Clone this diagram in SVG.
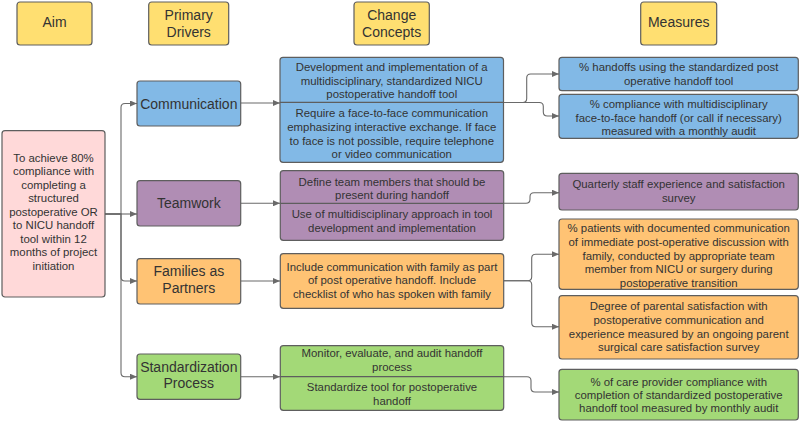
<svg xmlns="http://www.w3.org/2000/svg" width="800" height="422" viewBox="0 0 800 422">
<style>
.box{stroke:#5e5e5e;stroke-width:1.2}
.hdr{fill:#ffdf71}
.aim{fill:#ffd9d9}
.blue{fill:#82b9e6}
.purple{fill:#b08db4}
.orange{fill:#ffc374}
.green{fill:#a3d977}
text{font-family:"Liberation Sans",Arial,sans-serif;fill:#333;text-anchor:middle}
.h{font-size:14px}
.d{font-size:14px}
.s{font-size:11.4px}
.div{stroke:#5e5e5e;stroke-width:1.2;fill:none}
.c{fill:none;stroke:#6a6a6a;stroke-width:1.1}
</style>
<defs>
<marker id="ah" markerUnits="userSpaceOnUse" markerWidth="8" markerHeight="6" refX="7" refY="3" orient="auto">
<path d="M0,0 L7,3 L0,6 z" fill="#6a6a6a"/>
</marker>
</defs>

<g id="hdr-aim"><rect class="box hdr" x="17" y="2" width="75" height="43" rx="3"/><text class="h" x="54.5" y="27">Aim</text></g>
<g id="hdr-drivers"><rect class="box hdr" x="148.7" y="2" width="80" height="43" rx="3"/><text class="h" x="188.7" y="19.7">Primary</text><text class="h" x="188.7" y="36.7">Drivers</text></g>
<g id="hdr-concepts"><rect class="box hdr" x="354" y="2" width="75.3" height="43" rx="3"/><text class="h" x="391.7" y="19.7">Change</text><text class="h" x="391.7" y="36.7">Concepts</text></g>
<g id="hdr-measures"><rect class="box hdr" x="640.7" y="2" width="76" height="43" rx="3"/><text class="h" x="678.7" y="27">Measures</text></g>

<g id="connectors">
<path class="c" marker-end="url(#ah)" d="M105,214 H121 V107.5 Q121,103.5 125,103.5 H137"/>
<path class="c" marker-end="url(#ah)" d="M105,214 H137"/>
<path class="c" marker-end="url(#ah)" d="M105,214 H121 V277 Q121,281 125,281 H137"/>
<path class="c" marker-end="url(#ah)" d="M105,214 H121 V372.7 Q121,376.7 125,376.7 H137"/>
<path class="c" marker-end="url(#ah)" d="M240.7,103 H280"/>
<path class="c" marker-end="url(#ah)" d="M240.7,203.3 H280"/>
<path class="c" marker-end="url(#ah)" d="M240.7,281 H280"/>
<path class="c" marker-end="url(#ah)" d="M240.7,376.7 H280"/>
<path class="c" marker-end="url(#ah)" d="M503.5,102.5 H522.7 Q526.7,102.5 526.7,98.5 V78 Q526.7,74 530.7,74 H559"/>
<path class="c" marker-end="url(#ah)" d="M503.5,102.5 H539.3 Q543.3,102.5 543.3,106.5 V112 Q543.3,116 547.3,116 H559"/>
<path class="c" marker-end="url(#ah)" d="M503.7,203.3 H526 Q530,203.3 530,199.3 V196.7 Q530,192.7 534,192.7 H559"/>
<path class="c" marker-end="url(#ah)" d="M503.7,280.7 H527.7 Q531.7,280.7 531.7,276.7 V258.3 Q531.7,254.3 535.7,254.3 H559"/>
<path class="c" marker-end="url(#ah)" d="M503.7,280.7 H527.7 Q531.7,280.7 531.7,284.7 V322.7 Q531.7,326.7 535.7,326.7 H559"/>
<path class="c" marker-end="url(#ah)" d="M503.7,376.7 H527 Q531,376.7 531,380.7 V388 Q531,392 535,392 H559"/>
</g>

<g id="aim">
<rect class="box aim" x="2" y="130.7" width="103" height="166.3" rx="3"/>
<text class="s" x="53.5" y="161.7">To achieve 80%</text>
<text class="s" x="53.5" y="175.2">compliance with</text>
<text class="s" x="53.5" y="188.7">completing a</text>
<text class="s" x="53.5" y="202.2">structured</text>
<text class="s" x="53.5" y="215.7">postoperative OR</text>
<text class="s" x="53.5" y="229.2">to NICU handoff</text>
<text class="s" x="53.5" y="242.7">tool within 12</text>
<text class="s" x="53.5" y="256.2">months of project</text>
<text class="s" x="53.5" y="269.7">initiation</text>
</g>

<g id="driver-communication"><rect class="box blue" x="137" y="81" width="103.7" height="45" rx="3"/><text class="d" x="188.8" y="108.5">Communication</text></g>
<g id="driver-teamwork"><rect class="box purple" x="137" y="180.7" width="103.7" height="45.3" rx="3"/><text class="d" x="188.8" y="208.3">Teamwork</text></g>
<g id="driver-families"><rect class="box orange" x="137" y="258.7" width="103.7" height="45.3" rx="3"/><text class="d" x="188.8" y="276">Families as</text><text class="d" x="188.8" y="292.7">Partners</text></g>
<g id="driver-standardization"><rect class="box green" x="137" y="354" width="103.7" height="45.3" rx="3"/><text class="d" x="188.8" y="371.7">Standardization</text><text class="d" x="188.8" y="388.3">Process</text></g>

<g id="concepts-communication">
<rect class="box blue" x="280" y="57.3" width="223.5" height="105" rx="3"/>
<line class="div" x1="280" y1="102.3" x2="503.5" y2="102.3"/>
<text class="s" x="391.75" y="71.3">Development and implementation of a</text>
<text class="s" x="391.75" y="85">multidisciplinary, standardized NICU</text>
<text class="s" x="391.75" y="98.3">postoperative handoff tool</text>
<text class="s" x="391.75" y="117.3">Require a face-to-face communication</text>
<text class="s" x="391.75" y="131">emphasizing interactive exchange. If face</text>
<text class="s" x="391.75" y="144.7">to face is not possible, require telephone</text>
<text class="s" x="391.75" y="158">or video communication</text>
</g>
<g id="concepts-teamwork">
<rect class="box purple" x="280.3" y="170.7" width="223.4" height="69.6" rx="3"/>
<line class="div" x1="280.3" y1="203.3" x2="503.7" y2="203.3"/>
<text class="s" x="392" y="185.7">Define team members that should be</text>
<text class="s" x="392" y="199">present during handoff</text>
<text class="s" x="392" y="218">Use of multidisciplinary approach in tool</text>
<text class="s" x="392" y="232">development and implementation</text>
</g>
<g id="concepts-families">
<rect class="box orange" x="280.3" y="253.7" width="223.4" height="54.6" rx="3"/>
<text class="s" x="392" y="270.7">Include communication with family as part</text>
<text class="s" x="392" y="284">of post operative handoff. Include</text>
<text class="s" x="392" y="298">checklist of who has spoken with family</text>
</g>
<g id="concepts-standardization">
<rect class="box green" x="280.3" y="345.7" width="223.4" height="64.6" rx="3"/>
<line class="div" x1="280.3" y1="376.7" x2="503.7" y2="376.7"/>
<text class="s" x="392" y="357.3">Monitor, evaluate, and audit handoff</text>
<text class="s" x="392" y="371.3">process</text>
<text class="s" x="392" y="390.7">Standardize tool for postoperative</text>
<text class="s" x="392" y="404.7">handoff</text>
</g>

<g id="measure-comm-1"><rect class="box blue" x="559" y="57.3" width="239.3" height="33.4" rx="3"/><text class="s" x="678.7" y="71.3">% handoffs using the standardized post</text><text class="s" x="678.7" y="85.3">operative handoff tool</text></g>
<g id="measure-comm-2"><rect class="box blue" x="559" y="94.3" width="239.3" height="44" rx="3"/><text class="s" x="678.7" y="108">% compliance with multidisciplinary</text><text class="s" x="678.7" y="121.7">face-to-face handoff (or call if necessary)</text><text class="s" x="678.7" y="135">measured with a monthly audit</text></g>
<g id="measure-teamwork"><rect class="box purple" x="559" y="173.3" width="239.3" height="36.7" rx="3"/><text class="s" x="678.7" y="188.3">Quarterly staff experience and satisfaction</text><text class="s" x="678.7" y="202">survey</text></g>
<g id="measure-families-1"><rect class="box orange" x="559" y="219" width="239.3" height="70.3" rx="3"/><text class="s" x="678.7" y="232.3">% patients with documented communication</text><text class="s" x="678.7" y="246">of immediate post-operative discussion with</text><text class="s" x="678.7" y="259.7">family, conducted by appropriate team</text><text class="s" x="678.7" y="273.3">member from NICU or surgery during</text><text class="s" x="678.7" y="287">postoperative transition</text></g>
<g id="measure-families-2"><rect class="box orange" x="559" y="295.7" width="239.3" height="63.3" rx="3"/><text class="s" x="678.7" y="310">Degree of parental satisfaction with</text><text class="s" x="678.7" y="324">postoperative communication and</text><text class="s" x="678.7" y="337.7">experience measured by an ongoing parent</text><text class="s" x="678.7" y="351.3">surgical care satisfaction survey</text></g>
<g id="measure-standardization"><rect class="box green" x="559" y="369.3" width="239.3" height="50.7" rx="3"/><text class="s" x="678.7" y="385.7">% of care provider compliance with</text><text class="s" x="678.7" y="399">completion of standardized postoperative</text><text class="s" x="678.7" y="412.3">handoff tool measured by monthly audit</text></g>
</svg>
